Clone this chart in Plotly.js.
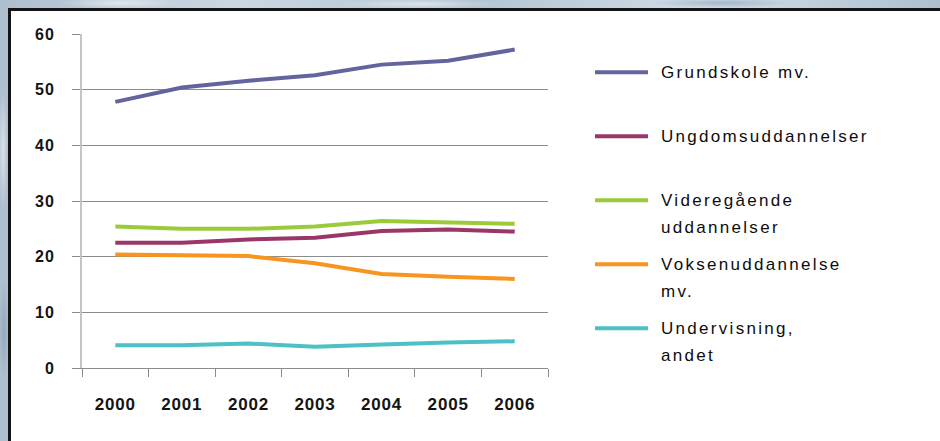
<!DOCTYPE html>
<html>
<head>
<meta charset="utf-8">
<script src="https://cdn.plot.ly/plotly-3.0.1.min.js"></script>
<style>
  html, body { margin:0; padding:0; width:940px; height:441px; overflow:hidden; }
  #bg { position:absolute; left:0; top:0; width:940px; height:441px;
    background:
      radial-gradient(ellipse 60px 6px at 120px 3px, rgba(255,255,255,0.55), transparent),
      radial-gradient(ellipse 80px 5px at 420px 4px, rgba(255,255,255,0.5), transparent),
      radial-gradient(ellipse 70px 5px at 720px 3px, rgba(90,120,150,0.35), transparent),
      radial-gradient(ellipse 5px 60px at 3px 150px, rgba(255,255,255,0.55), transparent),
      radial-gradient(ellipse 5px 50px at 4px 330px, rgba(90,120,150,0.3), transparent),
      linear-gradient(90deg, #aebfce 0%, #c9d7e2 25%, #b2c4d3 50%, #cfdce6 75%, #adc0d0 100%);
  }
  #card { position:absolute; left:8px; top:8px; width:932px; height:433px; background:#ffffff;
    border-left:3px solid #141414; border-top:3px solid #141414; box-sizing:border-box; }
  #chart { position:absolute; left:0; top:0; width:940px; height:441px; }
  .xtick text { letter-spacing: 0.8px; }
  .ytick text { letter-spacing: 1px; }
  .annotation-text { letter-spacing: 2.3px; }
</style>
</head>
<body>
<div id="bg"></div>
<div id="card"></div>
<div id="chart"></div>
<script>
// ---- data ----
const years = ["2000", "2001", "2002", "2003", "2004", "2005", "2006"];
const grundskole = [47.8, 50.4, 51.6, 52.6, 54.5, 55.2, 57.2];
const ungdomsuddannelser = [22.5, 22.5, 23.1, 23.4, 24.6, 24.9, 24.5];
const videregaaende = [25.4, 25.0, 25.0, 25.4, 26.4, 26.2, 25.9];
const voksenuddannelse = [20.4, 20.2, 20.1, 18.8, 16.9, 16.4, 16.0];
const undervisning = [4.1, 4.1, 4.4, 3.8, 4.2, 4.6, 4.8];
const seriesNames = ["Grundskole mv.", "Ungdomsuddannelser", "Videregående<br>uddannelser", "Voksenuddannelse<br>mv.", "Undervisning,<br>andet"];
const yTicks = [0, 10, 20, 30, 40, 50, 60];

// ---- styles ----
const seriesValues = [grundskole, ungdomsuddannelser, videregaaende, voksenuddannelse, undervisning];
const colors = ["#63649d", "#9a3668", "#9bcb3b", "#f7951f", "#4cc0c4"];

const traces = seriesValues.map((vals, i) => ({
  type: "scatter",
  mode: "lines",
  x: years,
  y: vals,
  name: seriesNames[i].replace("<br>", " "),
  line: { color: colors[i], width: 4, shape: "linear" },
  showlegend: false,
  hoverinfo: "x+y+name"
}));

// plot area in pixels
const L = 82, R = 548, T = 34, B = 368;
const px = x => (x - L) / (R - L);
const py = y => (B - y) / (B - T);

const legendY0 = 72.3, legendStep = 64, lineGap = 26.5;
const legLineX0 = 595, legLineX1 = 648, legTextX = 659;

const shapes = [];
const annotations = [];
seriesNames.forEach((nm, i) => {
  const yc = legendY0 + i * legendStep;
  shapes.push({
    type: "line", xref: "paper", yref: "paper",
    x0: px(legLineX0), x1: px(legLineX1), y0: py(yc), y1: py(yc),
    line: { color: colors[i], width: 4 }
  });
  nm.split("<br>").forEach((part, k) => {
    annotations.push({
      xref: "paper", yref: "paper",
      x: px(legTextX), y: py(yc + k * lineGap + 0.5),
      xanchor: "left", yanchor: "middle", align: "left",
      text: part, showarrow: false,
      font: { family: "Liberation Sans, Arial, sans-serif", size: 17, color: "#0d0d0d" }
    });
  });
});

const layout = {
  width: 940, height: 441,
  margin: { l: L, r: 940 - R, t: T, b: 441 - B, pad: 0 },
  paper_bgcolor: "rgba(0,0,0,0)",
  plot_bgcolor: "rgba(0,0,0,0)",
  showlegend: false,
  xaxis: {
    type: "category",
    range: [-0.5, 6.5],
    tickson: "boundaries",
    ticks: "outside", ticklen: 8, tickwidth: 1, tickcolor: "#8c8c8c",
    showline: true, linecolor: "#8c8c8c", linewidth: 1,
    showgrid: false, zeroline: false,
    ticklabelstandoff: 21,
    tickfont: { family: "Liberation Sans, Arial, sans-serif", size: 17, weight: 700, color: "#141414" }
  },
  yaxis: {
    range: [0, 60],
    tickvals: yTicks,
    ticktext: yTicks.map(String),
    ticks: "outside", ticklen: 8, tickwidth: 1, tickcolor: "#8c8c8c",
    showgrid: true, gridcolor: "#8c8c8c", gridwidth: 1,
    showline: true, linecolor: "#c4c4c4", linewidth: 2,
    zeroline: false,
    ticklabelstandoff: 14,
    tickfont: { family: "Liberation Sans, Arial, sans-serif", size: 16, weight: 700, color: "#141414" }
  },
  shapes: shapes,
  annotations: annotations
};

Plotly.newPlot("chart", traces, layout, { displayModeBar: false, staticPlot: true });
</script>
</body>
</html>
